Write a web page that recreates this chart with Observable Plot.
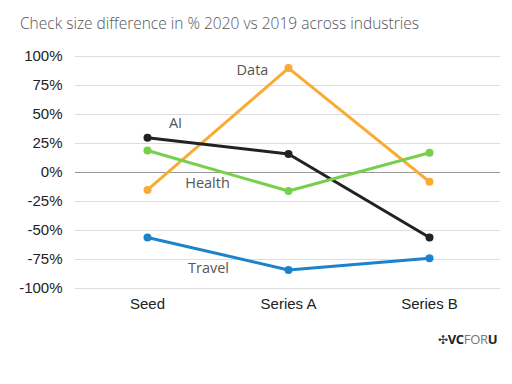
<!DOCTYPE html>
<html>
<head>
<meta charset="utf-8">
<script src="https://cdn.jsdelivr.net/npm/d3@7"></script>
<script src="https://cdn.jsdelivr.net/npm/@observablehq/plot@0.6"></script>
<style>
  html, body { margin: 0; padding: 0; background: #fff; }
  #wrap { position: relative; width: 512px; height: 384px; overflow: hidden; }
  #title { position: absolute; left: 20px; top: 12px; font-family: "Open Sans", sans-serif; font-weight: 300; font-size: 15.5px; color: #555; white-space: nowrap; }
  #chart { position: absolute; left: 0; top: 44px; }
  #logo { position: absolute; left: 438px; top: 330px; font-family: "Open Sans", sans-serif; font-size: 13px; white-space: nowrap; letter-spacing: -0.3px; }
  #logo .ic { color: #333; font-size: 12px; }
  #logo .b { font-weight: 700; color: #222; }
  #logo .l { font-weight: 400; color: #777; }
</style>
</head>
<body>
<div id="wrap">
  <div id="title">Check size difference in % 2020 vs 2019 across industries</div>
  <div id="chart"></div>
  <div id="logo"><span class="ic">✣</span><span class="b">VC</span><span class="l">FOR</span><span class="b">U</span></div>
</div>
<script>
const stages = ["Seed", "Series A", "Series B"];
const yTicks = [100, 75, 50, 25, 0, -25, -50, -75, -100];
const seriesNames = ["Data", "AI", "Health", "Travel"];
const dataValues = [-15, 90, -8];
const aiValues = [30, 16, -56];
const healthValues = [19, -16, 17];
const travelValues = [-56, -84, -74];
const colors = ["#F8AC35", "#222222", "#77D04C", "#1B83CC"];

const valuesBySeries = [dataValues, aiValues, healthValues, travelValues];
const rows = [];
seriesNames.forEach((s, i) => {
  stages.forEach((st, j) => rows.push({series: s, stage: st, value: valuesBySeries[i][j]}));
});

const labelFont = {fontFamily: "'Open Sans', sans-serif", fontSize: 14.5, fill: "#555"};
const pt = (s, st) => rows.filter(d => d.series === s && d.stage === st);

const chart = Plot.plot({
  width: 512,
  height: 340,
  marginLeft: 75,
  marginRight: 12,
  marginTop: 12,
  marginBottom: 96,
  style: {fontFamily: "'Liberation Sans', Arial, sans-serif", fontSize: "15px", color: "#222", background: "#fff"},
  x: {type: "point", domain: stages, label: null},
  y: {domain: [-100, 100], ticks: yTicks, label: null},
  color: {domain: seriesNames, range: colors},
  marks: [
    Plot.ruleY(yTicks.filter(d => d !== 0), {stroke: "#dddddd", strokeWidth: 1}),
    Plot.ruleY([0], {stroke: "#999999", strokeWidth: 1}),
    Plot.axisY({ticks: yTicks, tickSize: 0, tickPadding: 13, tickFormat: d => d + "%", fill: "#222", fontSize: 15}),
    Plot.axisX({tickSize: 0, tickPadding: 10, fill: "#222", fontSize: 15}),
    Plot.line(rows, {x: "stage", y: "value", z: "series", stroke: "series", strokeWidth: 3}),
    Plot.dot(rows, {x: "stage", y: "value", fill: "series", r: 4}),
    Plot.text(pt("Data", "Series A"), {x: "stage", y: "value", text: "series", dx: -36, dy: 2, ...labelFont}),
    Plot.text(pt("AI", "Seed"), {x: "stage", y: "value", text: "series", dx: 28, dy: -14, ...labelFont}),
    Plot.text(pt("Health", "Seed"), {x: "stage", y: "value", text: "series", dx: 60, dy: 33, ...labelFont}),
    Plot.text(pt("Travel", "Seed"), {x: "stage", y: "value", text: "series", dx: 61, dy: 31, ...labelFont})
  ]
});
document.getElementById("chart").appendChild(chart);
</script>
</body>
</html>
